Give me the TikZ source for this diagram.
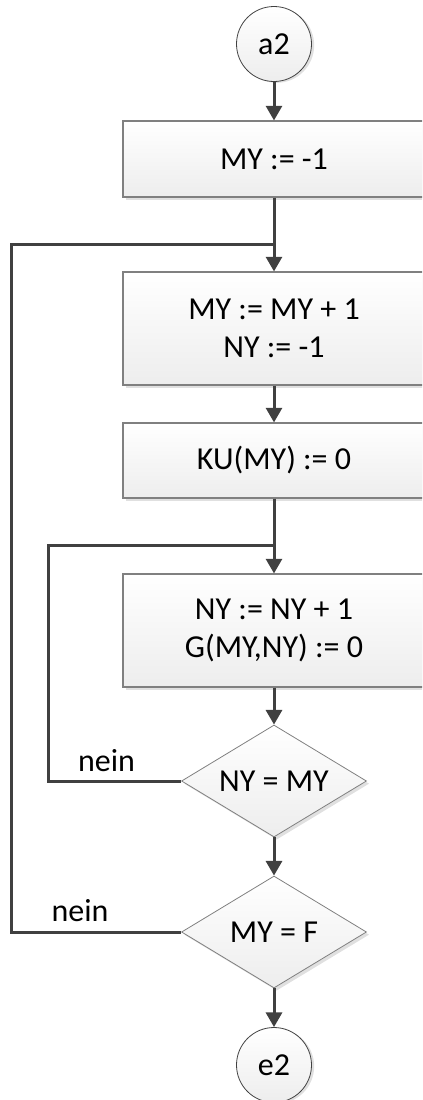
\documentclass[tikz,border=0pt]{standalone}
\usepackage{fontspec}
\setmainfont{Carlito}
\usepackage{xcolor}
\usetikzlibrary{positioning,shapes.geometric,arrows.meta,shadows}
\definecolor{linegray}{HTML}{404040}
\definecolor{edgegray}{HTML}{808080}

\begin{document}
\begin{tikzpicture}[x=0.75pt, y=-0.75pt,
    every node/.style={font=\fontsize{24pt}{28.5pt}\selectfont, align=center},
    procbox/.style={rectangle, draw=edgegray, line width=0.8pt, top color=white, bottom color=black!7,
        minimum width=226.5pt, inner sep=0pt,
        drop shadow={shadow xshift=2pt, shadow yshift=-2pt, fill=black!12, opacity=1}},
    testbox/.style={diamond, draw=edgegray, line width=0.6pt, top color=white, bottom color=black!7,
        aspect=1.65, inner sep=0pt, minimum width=138.75pt, minimum height=84pt,
        drop shadow={shadow xshift=2pt, shadow yshift=-2pt, fill=black!12, opacity=1}},
    termnode/.style={circle, draw=linegray, line width=0.6pt, top color=white, bottom color=black!7,
        minimum size=56.25pt, inner sep=0pt,
        drop shadow={shadow xshift=2pt, shadow yshift=-1pt, fill=black!12, opacity=1}},
    flow/.style={draw=linegray, line width=2.25pt, -{Triangle[width=12pt,length=11pt]}},
    backline/.style={draw=linegray, line width=2.25pt}]
    \useasboundingbox (0,0) rectangle (422,1100);
    \clip (0,0) rectangle (422,1100);

    \node [termnode] (a2) at (274,44) {a2};
    \node [procbox, minimum height=57pt, below of=a2, node distance=86.25pt] (init) {MY := -1};
    \node [procbox, minimum height=84.75pt, below of=init, node distance=127.1pt] (nextmy) {MY := MY + 1\\NY := -1};
    \node [procbox, minimum height=56.25pt, below of=nextmy, node distance=99pt] (kuset) {KU(MY) := 0};
    \node [procbox, minimum height=84.75pt, below of=kuset, node distance=127.5pt] (nextny) {NY := NY + 1\\G(MY,NY) := 0};
    \node [testbox, below of=nextny, node distance=112.9pt] (testny) {NY = MY};
    \node [testbox, below of=testny, node distance=113.25pt] (testmy) {MY = F};
    \node [termnode, below of=testmy, node distance=99.75pt] (e2) {e2};

    % back loops
    \coordinate (outerjoin) at (274,244);
    \coordinate (outercorner) at (11,244);
    \coordinate (innerjoin) at (274,545);
    \coordinate (innercorner) at (48,545);

    \draw [flow] (a2) -- (init);
    \draw [flow] (init) -- (nextmy);
    \draw [flow] (nextmy) -- (kuset);
    \draw [flow] (kuset) -- (nextny);
    \draw [flow] (nextny) -- (testny);
    \draw [flow] (testny) -- (testmy);
    \draw [flow] (testmy) -- (e2);
    \draw [backline] (testny.west) -| (innercorner) -- (innerjoin);
    \draw [backline] (testmy.west) -| (outercorner) -- (outerjoin);

    \node [anchor=base] (neinny) at (106.5,771.7) {nein};
    \node [anchor=base] (neinmy) at (80,921.7) {nein};
\end{tikzpicture}
\end{document}
